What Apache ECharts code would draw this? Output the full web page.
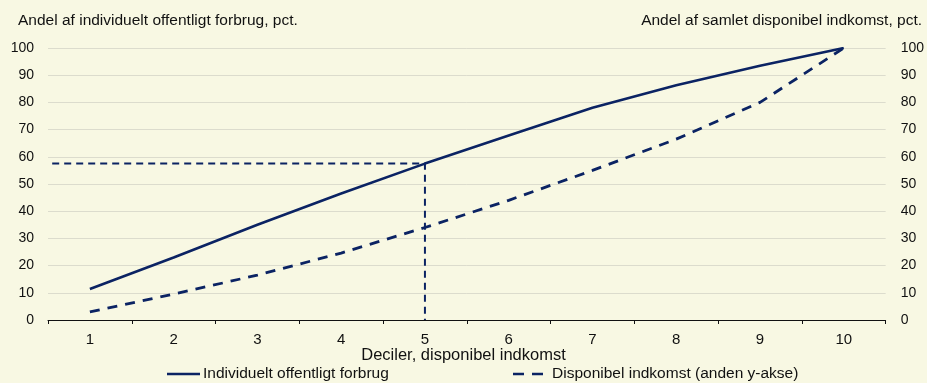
<!DOCTYPE html>
<html><head><meta charset="utf-8">
<script src="https://cdn.jsdelivr.net/npm/echarts@6/dist/echarts.min.js"></script>
<style>html,body{margin:0;padding:0;background:#f8f8e3}#c{width:927px;height:383px}</style>
</head><body><div id="c"></div>
<script>
const categories = ['1','2','3','4','5','6','7','8','9','10'];
const forbrug = [11.4, 23, 35, 46.5, 57.5, 67.8, 78, 86.3, 93.5, 100];
const indkomst = [3, 9.5, 16.5, 24.6, 34, 44, 55, 66.5, 80, 100];
const refX = [0.55, 5, 5];
const refY = [57.5, 57.5, 0];

const navy = '#0b2363';
const ink = '#111111';
const font = 'Liberation Sans, Arial, sans-serif';
const chart = echarts.init(document.getElementById('c'));
chart.setOption({
  backgroundColor: '#f8f8e3',
  animation: false,
  textStyle: {fontFamily: font, color: ink},
  grid: {left: 48, right: 40, top: 48, bottom: 63, containLabel: false},
  graphic: [
    {type: 'text', left: 18, top: 13, style: {text: 'Andel af individuelt offentligt forbrug, pct.', font: '15.5px ' + font, fill: ink}},
    {type: 'text', right: 5, top: 13, style: {text: 'Andel af samlet disponibel indkomst, pct.', font: '15.5px ' + font, fill: ink}},
    {type: 'text', left: 'center', top: 347, style: {text: 'Deciler, disponibel indkomst', font: '16.5px ' + font, fill: ink}}
  ],
  legend: [
    {top: 366, left: 167, padding: 0, itemWidth: 33, itemHeight: 2.5,
     icon: 'path://M0,0H33V2.5H0Z',
     textStyle: {fontSize: 15.5, fontFamily: font, color: ink, padding: [0,0,0,-2]},
     data: ['Individuelt offentligt forbrug']},
    {top: 366, left: 513, padding: 0, itemWidth: 30, itemHeight: 2.5,
     icon: 'path://M0,0H11V2.5H0Z M19,0H30V2.5H19Z',
     textStyle: {fontSize: 15.5, fontFamily: font, color: ink, padding: [0,0,0,4]},
     data: ['Disponibel indkomst (anden y-akse)']}
  ],
  xAxis: [
    {type: 'category', data: categories, boundaryGap: true,
     axisLine: {lineStyle: {color: ink, width: 1}},
     axisTick: {show: true, length: 4, inside: false, lineStyle: {color: ink}},
     axisLabel: {fontSize: 15, color: ink, margin: 12, fontFamily: font},
     splitLine: {show: false}},
    {type: 'value', min: 0.5, max: 10.5, show: false}
  ],
  yAxis: [
    {type: 'value', min: 0, max: 100, interval: 10, position: 'left',
     axisLine: {show: false}, axisTick: {show: false},
     axisLabel: {fontSize: 14, color: ink, margin: 14, fontFamily: font},
     splitLine: {lineStyle: {color: '#dcdccd', width: 1}}},
    {type: 'value', min: 0, max: 100, interval: 10, position: 'right',
     axisLine: {show: false}, axisTick: {show: false},
     axisLabel: {fontSize: 14, color: ink, margin: 15, align: 'left', fontFamily: font},
     splitLine: {show: false}}
  ],
  series: [
    {name: 'Individuelt offentligt forbrug', type: 'line', data: forbrug,
     xAxisIndex: 0, yAxisIndex: 0, symbol: 'none', color: navy,
     lineStyle: {color: navy, width: 2.6}, z: 5},
    {name: 'Disponibel indkomst (anden y-akse)', type: 'line', data: indkomst,
     xAxisIndex: 0, yAxisIndex: 1, symbol: 'none', color: navy,
     lineStyle: {color: navy, width: 2.8, type: [10, 8]}, z: 5},
    {name: 'ref', type: 'line', data: refX.map((x, i) => [x, refY[i]]),
     xAxisIndex: 1, yAxisIndex: 0, symbol: 'none', color: navy,
     lineStyle: {color: navy, width: 2, type: [7, 5]}, z: 4}
  ]
});
</script></body></html>
